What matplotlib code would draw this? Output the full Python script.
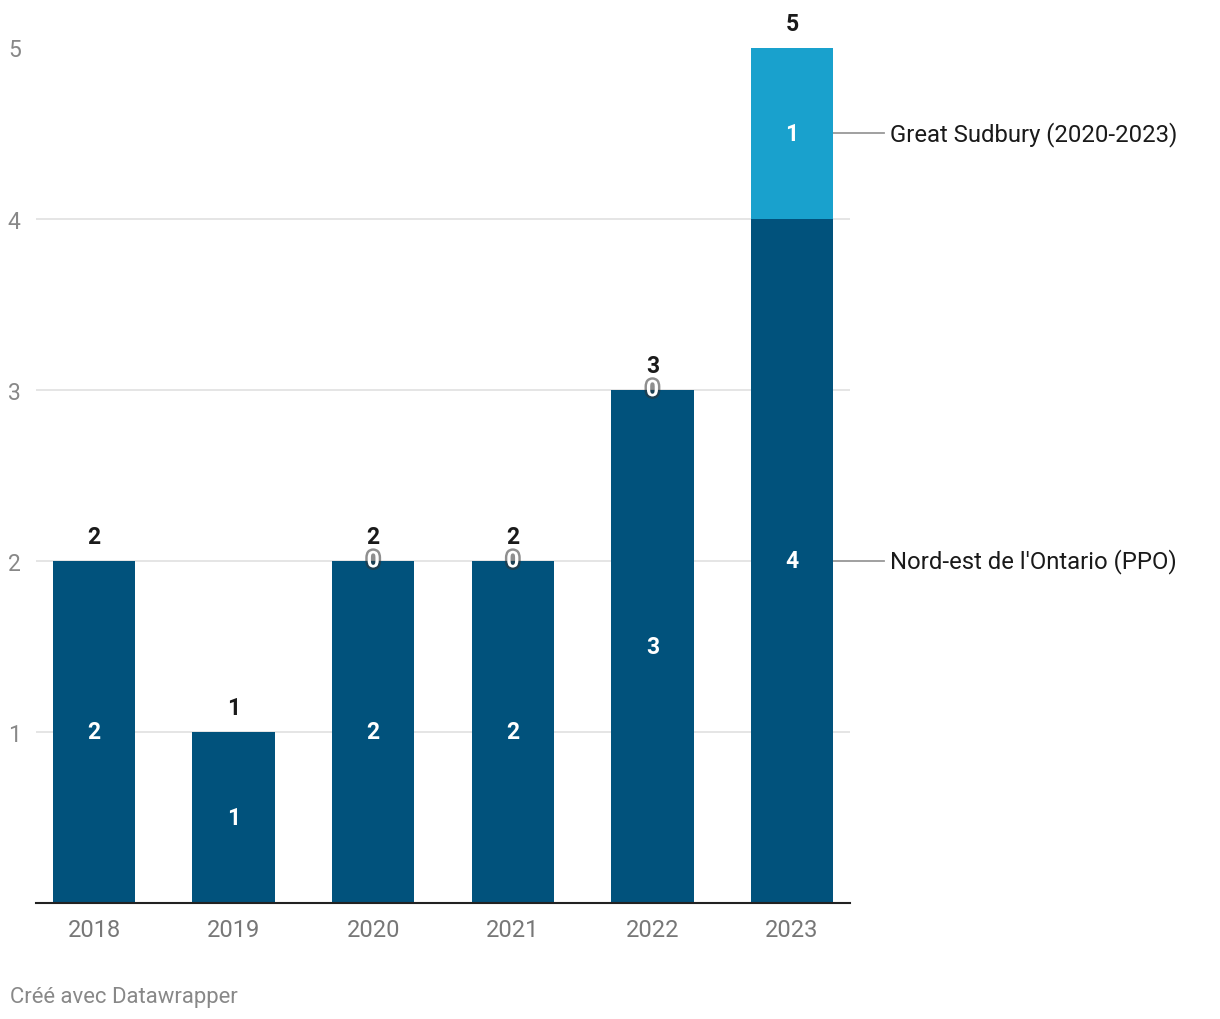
import matplotlib
matplotlib.use("Agg")
import matplotlib.pyplot as plt
import matplotlib.patheffects as pe
import numpy as np

# Data
years = ["2018", "2019", "2020", "2021", "2022", "2023"]
nord_est = [2, 1, 2, 2, 3, 4]
sudbury = [None, None, 0, 0, 0, 1]
nord_label = "Nord-est de l'Ontario (PPO)"
sudbury_label = "Great Sudbury (2020-2023)"

DARK = "#01527c"
LIGHT = "#19a1cd"
GREY = "#888888"

plt.rcParams["font.family"] = ["Roboto", "DejaVu Sans"]

fig = plt.figure(figsize=(12.2, 10.2), dpi=100)
ax = fig.add_axes([36 / 1220, 1 - 904 / 1020, (850 - 36) / 1220, (904 - 48.5) / 1020])

x = np.arange(len(years))
sud = [v if v is not None else 0 for v in sudbury]
ax.bar(x, nord_est, width=0.59, color=DARK, zorder=2)
ax.bar(x, sud, width=0.59, bottom=nord_est, color=LIGHT, zorder=2)

ax.set_xlim(-0.415, len(years) - 1 + 0.415)
ax.set_ylim(0, 5)

# grid and axes
ax.set_yticks([1, 2, 3, 4, 5])
ax.yaxis.grid(True, color="#e0e0e0", linewidth=1.2, zorder=0)
ax.set_axisbelow(True)
for s in ["top", "right", "left"]:
    ax.spines[s].set_visible(False)
ax.spines["bottom"].set_color("#222222")
ax.spines["bottom"].set_linewidth(1.5)
ax.tick_params(axis="y", length=0, pad=11, labelsize=16.5, labelcolor=GREY)
ax.tick_params(axis="x", length=0, pad=11, labelsize=17, labelcolor="#777777")
ax.set_xticks(x)
ax.set_xticklabels(years)

halo = [pe.withStroke(linewidth=3.5, foreground="#333333", alpha=0.55)]

for i in range(len(years)):
    n = nord_est[i]
    ax.text(x[i], n / 2, str(n), ha="center", va="center", color="white",
            fontsize=16.5, fontweight="bold", zorder=3)
    total = n
    if sudbury[i] is not None:
        s = sudbury[i]
        total = n + s
        ax.text(x[i], n + s / 2, str(s), ha="center", va="center", color="white",
                fontsize=16.5, fontweight="bold", zorder=4,
                path_effects=halo if s == 0 else None)
    ax.annotate(str(total), (x[i], total), xytext=(0, 17.5), textcoords="offset points",
                ha="center", va="center", fontsize=16.5, fontweight="bold",
                color="#1a1a1a", annotation_clip=False)

# direct labels on the right
last = len(years) - 1
right_edge = x[last] + 0.59 / 2
for yv, lab in [(nord_est[last] + sud[last] / 2, sudbury_label), (nord_est[last] / 2, nord_label)]:
    ax.plot([right_edge, right_edge + 0.36], [yv, yv], color="#999999", linewidth=1.3,
            clip_on=False, zorder=1)
    ax.text(right_edge + 0.41, yv, lab, ha="left", va="center", fontsize=17.2,
            color="#1a1a1a", clip_on=False)

fig.text(10 / 1220, 1 - 998 / 1020, "Créé avec Datawrapper", ha="left", va="center",
         fontsize=15.9, color=GREY)

fig.savefig("out.png", dpi=100)
